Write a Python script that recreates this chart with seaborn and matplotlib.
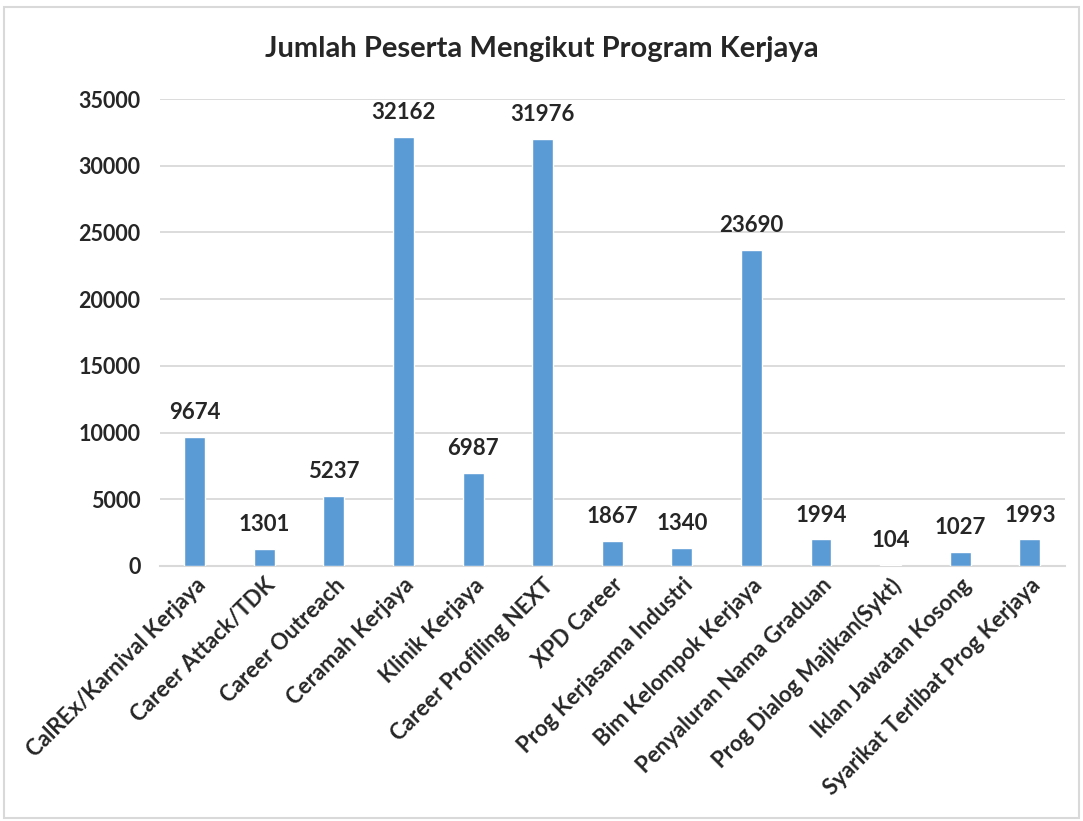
import numpy as np
import pandas as pd
import matplotlib
matplotlib.use('Agg')
import matplotlib.pyplot as plt
import seaborn as sns

# Data
programs = ['CalREx/Karnival Kerjaya', 'Career Attack/TDK', 'Career Outreach',
            'Ceramah Kerjaya', 'Klinik Kerjaya', 'Career Profiling NEXT',
            'XPD Career', 'Prog Kerjasama Industri', 'Bim Kelompok Kerjaya',
            'Penyaluran Nama Graduan', 'Prog Dialog Majikan(Sykt)',
            'Iklan Jawatan Kosong', 'Syarikat Terlibat Prog Kerjaya']
peserta = [9674, 1301, 5237, 32162, 6987, 31976, 1867, 1340, 23690, 1994, 104, 1027, 1993]
yticks = [0, 5000, 10000, 15000, 20000, 25000, 30000, 35000]

df = pd.DataFrame({'program': programs, 'peserta': peserta})

sns.set_style('white')
plt.rcParams['font.family'] = ['Lato', 'DejaVu Sans']
plt.rcParams['font.weight'] = 'bold'

fig = plt.figure(figsize=(10.83, 8.21), dpi=100)
ax = fig.add_axes([0.1477, 0.3106, 0.8353, 0.5688])

sns.barplot(data=df, x='program', y='peserta', color='#5B9BD5', width=0.3,
            saturation=1, ax=ax, zorder=3)

ax.set_ylim(0, 35000)
ax.set_xlim(-0.5, len(programs) - 0.5)
ax.set_yticks(yticks)
ax.set_yticklabels([str(t) for t in yticks], fontsize=15.5, fontweight='bold')
ax.set_xticks(range(len(programs)))
ax.set_xticklabels(programs, rotation=45, ha='right', rotation_mode='anchor',
                   fontsize=16, fontweight='bold')
ax.tick_params(axis='y', length=0, pad=14)
ax.tick_params(axis='x', length=0, pad=6)
ax.set_xlabel('')
ax.set_ylabel('')

ax.yaxis.grid(True, color='#D9D9D9', linewidth=1.3, zorder=0)
for s in ['top', 'right', 'left']:
    ax.spines[s].set_visible(False)
ax.spines['bottom'].set_color('#D9D9D9')
ax.spines['bottom'].set_linewidth(1.5)

for container in ax.containers:
    ax.bar_label(container, padding=10, fontsize=16, fontweight='bold')

fig.text(0.5, 0.940, 'Jumlah Peserta Mengikut Program Kerjaya',
         ha='center', va='center', fontsize=21, fontweight='bold')

# light frame around the chart
fig.patches.append(plt.Rectangle((0.004, 0.004), 0.992, 0.988, transform=fig.transFigure,
                                 fill=False, edgecolor='#D9D9D9', linewidth=1.5))

fig.savefig('out.png', dpi=100, facecolor='white')
